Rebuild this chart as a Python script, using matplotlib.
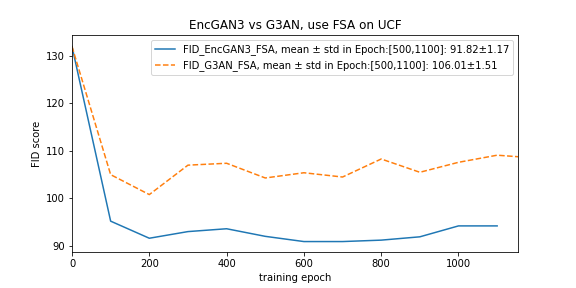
import matplotlib
matplotlib.use("Agg")
import matplotlib.pyplot as plt

epochs_enc = [0, 100, 200, 300, 400, 500, 600, 700, 800, 900, 1000, 1100]
fid_enc = [132.0, 95.2, 91.6, 93.0, 93.6, 92.0, 90.9, 90.9, 91.2, 91.9, 94.2, 94.2]

epochs_g3 = [0, 100, 200, 300, 400, 500, 600, 700, 800, 900, 1000, 1100, 1200]
fid_g3 = [132.0, 105.0, 100.8, 107.0, 107.4, 104.3, 105.4, 104.5, 108.3, 105.5, 107.6, 109.1, 108.5]

label_enc = "FID_EncGAN3_FSA, mean \u00b1 std in Epoch:[500,1100]: 91.82\u00b11.17"
label_g3 = "FID_G3AN_FSA, mean \u00b1 std in Epoch:[500,1100]: 106.01\u00b11.51"

fig, ax = plt.subplots(figsize=(8, 4), dpi=72)
fig.subplots_adjust(left=0.125, right=0.9, bottom=0.125, top=0.878)
ax.plot(epochs_enc, fid_enc, color="#1f77b4", linestyle="-", label=label_enc)
ax.plot(epochs_g3, fid_g3, color="#ff7f0e", linestyle="--", label=label_g3)
ax.set_xlim(0, 1155)
ax.set_ylim(88.7, 134.4)
ax.set_xlabel("training epoch")
ax.set_ylabel("FID score")
ax.set_title("EncGAN3 vs G3AN, use FSA on UCF")
ax.legend(loc="upper right")
fig.savefig("out.png", dpi=72)
